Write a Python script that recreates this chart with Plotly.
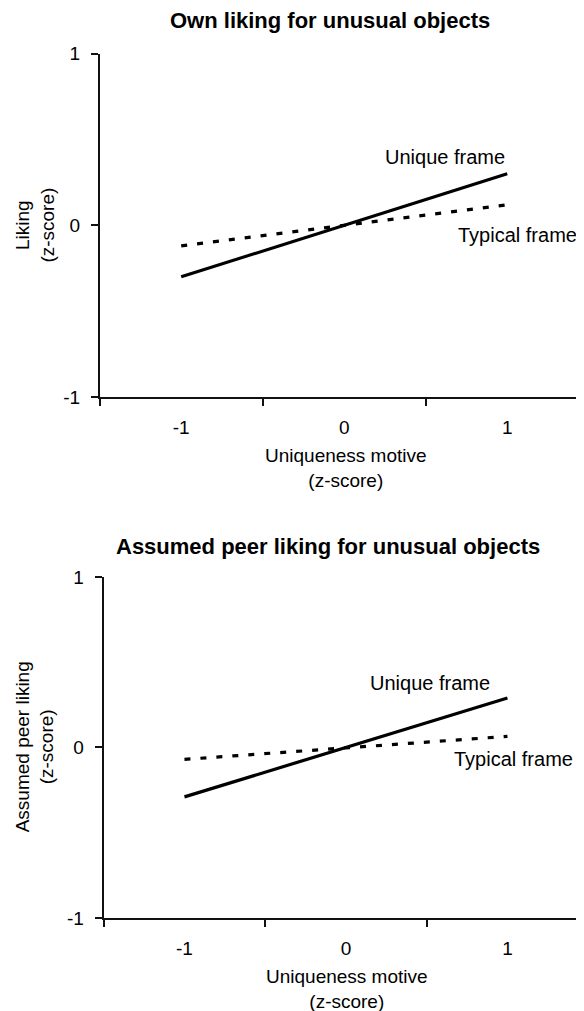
import plotly.graph_objects as go

# The page body has an 8px default margin; the figure is sized to fill the rest of the window
OFF = 8
W, H = 584 - OFF, 1011 - OFF

# ---- data ----
x_cats = ["-1", "0", "1"]
x_ends = ["-1", "1"]
top_unique = [-0.30, 0.30]
top_typical = [-0.12, 0.12]
bot_unique = [-0.29, 0.29]
bot_typical = [-0.07, 0.065]
y_ticks = [-1, 0, 1]
y_ticktext = ["-1", "0", "1"]

top_title = "Own liking for unusual objects"
bot_title = "Assumed peer liking for unusual objects"
top_ylabel = "Liking<br>(z-score)"
bot_ylabel = "Assumed peer liking<br>(z-score)"
xlabel = "Uniqueness motive<br>(z-score)"

FONT = "Liberation Sans, Arial, sans-serif"
FS = 19

# vertical placement correction (observed screen = A + B * figure_y)
A, B = 17.7, 0.979


def py(p):
    f = (p - A) / B
    return 1 - f / H


def px(p):
    return (p - OFF) / W


fig = go.Figure()

line_solid = dict(color="black", width=3.2)
line_dot = dict(color="black", width=3.2, dash="6px,10px")

fig.add_trace(go.Scatter(x=x_ends, y=top_unique, mode="lines", line=line_solid,
                         xaxis="x", yaxis="y", showlegend=False))
fig.add_trace(go.Scatter(x=x_ends, y=top_typical, mode="lines", line=line_dot,
                         xaxis="x", yaxis="y", showlegend=False))
fig.add_trace(go.Scatter(x=x_ends, y=bot_unique, mode="lines", line=line_solid,
                         xaxis="x2", yaxis="y2", showlegend=False))
fig.add_trace(go.Scatter(x=x_ends, y=bot_typical, mode="lines", line=line_dot,
                         xaxis="x2", yaxis="y2", showlegend=False))


def xaxis(domain, rng, anchor, lw):
    return dict(domain=domain, range=rng, anchor=anchor, type="category",
                categoryorder="array", categoryarray=x_cats,
                tickson="boundaries", ticks="outside", ticklen=7, tickwidth=1.5,
                tickcolor="#111", showline=True, linecolor="#111", linewidth=lw,
                showgrid=False, zeroline=False,
                tickfont=dict(family=FONT, size=FS, color="black"),
                ticklabelstandoff=12, fixedrange=True)


def yaxis(domain, anchor, lw):
    return dict(domain=domain, range=[-1, 1], anchor=anchor,
                tickvals=y_ticks, ticktext=y_ticktext,
                ticks="outside", ticklen=7, tickwidth=1.5, tickcolor="#111",
                showline=True, linecolor="#111", linewidth=lw,
                showgrid=False, zeroline=False,
                tickfont=dict(family=FONT, size=FS, color="black"),
                ticklabelstandoff=7, fixedrange=True)


fig.update_layout(
    width=W, height=H,
    margin=dict(l=0, r=0, t=0, b=0),
    paper_bgcolor="white", plot_bgcolor="white",
    font=dict(family=FONT, size=FS, color="black"),
    xaxis=xaxis([px(99.7), 1], [-0.5, 2.471], "y", 2),
    yaxis=yaxis([py(396.7), py(53.3)], "x", 1.5),
    xaxis2=xaxis([px(103.7), 1], [-0.5, 2.474], "y2", 2),
    yaxis2=yaxis([py(917.5), py(576.7)], "x2", 2),
)

ann = []
# subplot titles
ann.append(dict(text="<b>%s</b>" % top_title, x=px(330), y=py(20), xref="paper", yref="paper",
                showarrow=False, font=dict(family=FONT, size=22), xanchor="center", yanchor="middle"))
ann.append(dict(text="<b>%s</b>" % bot_title, x=px(328), y=py(546), xref="paper", yref="paper",
                showarrow=False, font=dict(family=FONT, size=22), xanchor="center", yanchor="middle"))
# y titles
ann.append(dict(text=top_ylabel, x=px(35), y=py(225.3), xref="paper", yref="paper", textangle=-90,
                showarrow=False, font=dict(family=FONT, size=FS), xanchor="center", yanchor="middle"))
ann.append(dict(text=bot_ylabel, x=px(35), y=py(747), xref="paper", yref="paper", textangle=-90,
                showarrow=False, font=dict(family=FONT, size=FS), xanchor="center", yanchor="middle"))
# x titles
ann.append(dict(text=xlabel, x=px(345.5), y=py(467.5), xref="paper", yref="paper",
                showarrow=False, font=dict(family=FONT, size=FS), xanchor="center", yanchor="middle"))
ann.append(dict(text=xlabel, x=px(347), y=py(988.5), xref="paper", yref="paper",
                showarrow=False, font=dict(family=FONT, size=FS), xanchor="center", yanchor="middle"))
# series labels
ann.append(dict(text="Unique frame", x=px(445), y=py(156.7), xref="paper", yref="paper",
                showarrow=False, font=dict(family=FONT, size=20), xanchor="center", yanchor="middle"))
ann.append(dict(text="Typical frame", x=px(517), y=py(235), xref="paper", yref="paper",
                showarrow=False, font=dict(family=FONT, size=20), xanchor="center", yanchor="middle"))
ann.append(dict(text="Unique frame", x=px(429.5), y=py(682.3), xref="paper", yref="paper",
                showarrow=False, font=dict(family=FONT, size=20), xanchor="center", yanchor="middle"))
ann.append(dict(text="Typical frame", x=px(513.4), y=py(758.3), xref="paper", yref="paper",
                showarrow=False, font=dict(family=FONT, size=20), xanchor="center", yanchor="middle"))
fig.update_layout(annotations=ann)

fig.write_html("out.html", config={"displayModeBar": False})
